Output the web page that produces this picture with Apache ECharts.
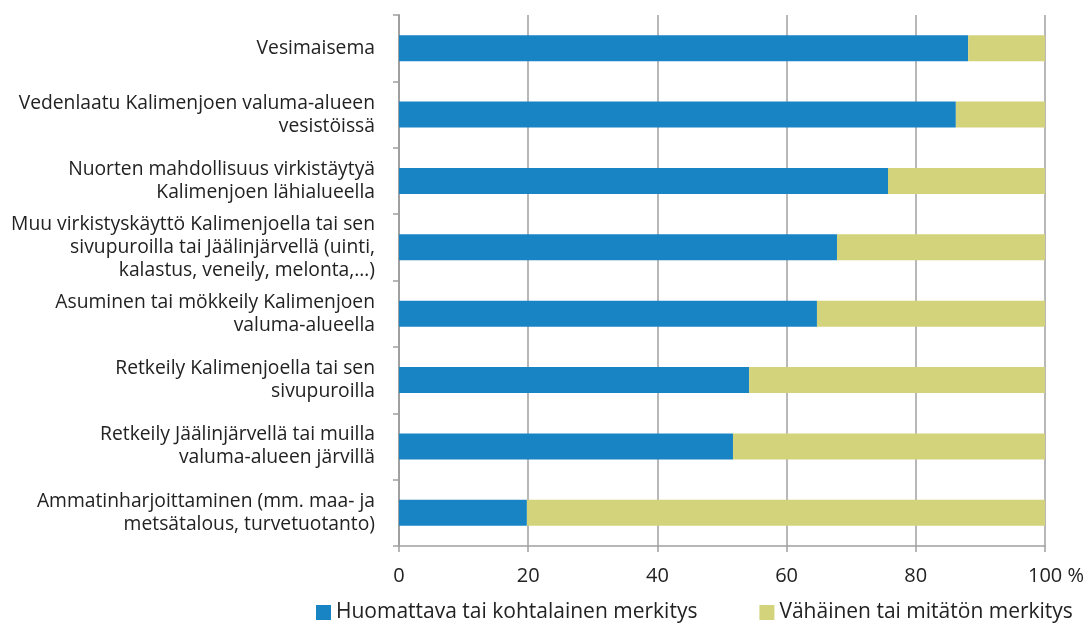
<!DOCTYPE html>
<html>
<head>
<meta charset="utf-8">
<script src="https://cdn.jsdelivr.net/npm/echarts@6/dist/echarts.min.js"></script>
<style>
html, body { margin: 0; padding: 0; background: #fff; }
#chart { width: 1085px; height: 628px; }
</style>
</head>
<body>
<div id="chart"></div>
<script>
const categories = [
    'Vesimaisema',
    'Vedenlaatu Kalimenjoen valuma-alueen\nvesistöissä',
    'Nuorten mahdollisuus virkistäytyä\nKalimenjoen lähialueella',
    'Muu virkistyskäyttö Kalimenjoella tai sen\nsivupuroilla tai Jäälinjärvellä (uinti,\nkalastus, veneily, melonta,…)',
    'Asuminen tai mökkeily Kalimenjoen\nvaluma-alueella',
    'Retkeily Kalimenjoella tai sen\nsivupuroilla',
    'Retkeily Jäälinjärvellä tai muilla\nvaluma-alueen järvillä',
    'Ammatinharjoittaminen (mm. maa- ja\nmetsätalous, turvetuotanto)'
];
const significant = [88.1, 86.2, 75.7, 67.8, 64.7, 54.2, 51.7, 19.8];
const minor = [11.9, 13.8, 24.3, 32.2, 35.3, 45.8, 48.3, 80.2];
const seriesNames = ['Huomattava tai kohtalainen merkitys', 'Vähäinen tai mitätön merkitys'];

const font = '"Open Sans", Lato, sans-serif';
const chart = echarts.init(document.getElementById('chart'));

chart.setOption({
    animation: false,
    textStyle: { fontFamily: font },
    grid: { left: 399, right: 40, top: 15, bottom: 82, containLabel: false, outerBoundsMode: 'none' },
    legend: {
        bottom: 5,
        left: 316,
        width: 900,
        padding: 0,
        itemWidth: 15,
        itemHeight: 15,
        itemGap: 62,
        icon: 'rect',
        textStyle: { fontSize: 21, color: '#222', fontFamily: font },
        data: seriesNames
    },
    xAxis: {
        type: 'value',
        min: 0,
        max: 100,
        interval: 20,
        axisLine: { show: true, lineStyle: { color: '#a0a0a0', width: 1.5 } },
        axisTick: { show: true, length: 6, lineStyle: { color: '#a0a0a0', width: 1.5 } },
        splitLine: { show: true, lineStyle: { color: '#a0a0a0', width: 1.5 } },
        axisLabel: {
            fontSize: 20,
            color: '#222',
            margin: 20,
            formatter: function (v) { return v === 100 ? '{last|100 %}' : String(v); },
            rich: {
                last: { fontSize: 20, color: '#222', padding: [0, 0, 0, 22] }
            }
        }
    },
    yAxis: {
        type: 'category',
        inverse: true,
        data: categories,
        axisLine: { show: true, lineStyle: { color: '#a0a0a0', width: 2 } },
        axisTick: { show: true, length: 6, lineStyle: { color: '#a0a0a0', width: 1.5 } },
        axisLabel: {
            fontSize: 19.3,
            color: '#222',
            margin: 24,
            lineHeight: 23,
            align: 'right'
        }
    },
    series: [
        {
            name: seriesNames[0],
            type: 'bar',
            stack: 'total',
            barWidth: 26,
            itemStyle: { color: '#1884c4' },
            data: significant
        },
        {
            name: seriesNames[1],
            type: 'bar',
            stack: 'total',
            barWidth: 26,
            itemStyle: { color: '#d3d37c' },
            data: minor
        }
    ]
});
</script>
</body>
</html>
